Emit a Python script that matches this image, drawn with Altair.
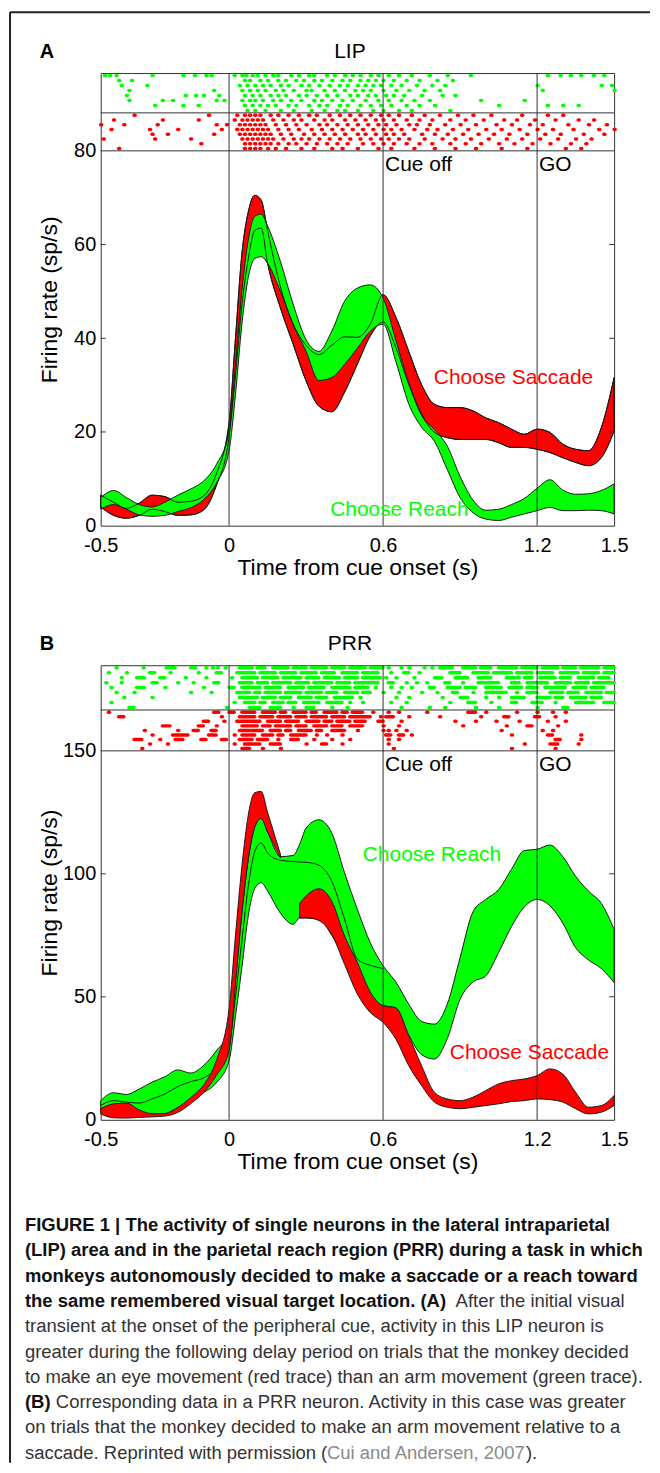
import altair as alt
import pandas as pd

RED = "#ff0000"
GREEN = "#00ff00"
EDGE = "#1a1a1a"
FONT = "Liberation Sans"

# ---------------- Panel A (LIP) ----------------
tA = [-0.5, -0.45, -0.4, -0.35, -0.3, -0.25, -0.2, -0.15, -0.1, -0.05, 0, 0.025, 0.05, 0.075, 0.1,
      0.125, 0.15, 0.2, 0.25, 0.3, 0.35, 0.4, 0.45, 0.5, 0.55, 0.6, 0.65, 0.7, 0.75, 0.8, 0.85, 0.9,
      0.95, 1.0, 1.05, 1.1, 1.15, 1.2, 1.25, 1.3, 1.35, 1.4, 1.45, 1.5]
A_green_hi = [6.0, 7.5, 6.0, 4.5, 4.0, 5.0, 6.5, 7.8, 9.5, 13.0, 20.0, 34.0, 50.0, 61.0, 66.0,
              66.5, 64.0, 56.4, 47.2, 39.7, 37.2, 41.5, 47.9, 50.7, 51.4, 48.6, 39.5, 30.5, 23.5, 20.5, 17.0, 10.5,
              5.5, 3.3, 3.5, 4.5, 5.8, 8.0, 9.8, 7.6, 6.7, 6.8, 7.5, 8.9]
A_green_lo = [3.5, 4.5, 3.5, 2.3, 2.0, 2.2, 3.0, 3.8, 5.5, 9.0, 16.0, 28.0, 43.0, 53.0, 57.0,
              57.4, 56.0, 50.0, 42.9, 37.2, 31.0, 31.6, 34.4, 37.9, 41.5, 43.0, 35.0, 26.0, 21.0, 18.0, 12.0, 6.0,
              2.8, 1.4, 1.1, 1.8, 2.5, 3.2, 3.9, 3.2, 3.2, 3.3, 3.2, 2.5]
A_red_hi = [6.5, 5.0, 3.7, 4.8, 6.5, 6.2, 5.0, 5.2, 6.3, 11.0, 22.0, 40.0, 58.0, 67.0, 70.5,
            69.5, 63.0, 51.0, 43.0, 38.5, 36.5, 38.5, 40.3, 40.2, 43.0, 49.3, 44.5, 37.2, 30.1, 25.9, 25.2, 25.2,
            24.5, 23.0, 22.0, 20.6, 19.5, 20.6, 19.9, 17.4, 16.3, 16.0, 20.9, 31.6]
A_red_lo = [4.0, 2.2, 1.6, 2.2, 3.5, 3.0, 2.2, 2.3, 3.3, 8.5, 19.0, 32.0, 47.0, 57.0, 63.0,
            63.5, 56.0, 46.5, 38.7, 30.9, 25.5, 24.3, 28.5, 34.5, 40.5, 43.5, 38.0, 30.1, 23.8, 19.9, 18.8, 18.4,
            18.4, 18.4, 17.7, 16.7, 16.7, 16.3, 15.6, 14.5, 13.5, 12.8, 14.5, 20.2]

# raster A: spike times per trial row, top row first
A_raster_green = [
    [-0.485, -0.465, -0.44, -0.30, -0.18, -0.135, -0.09, -0.07, 0.02, 0.05, 0.065, 0.09, 0.11, 0.14, 0.17,
     0.19, 0.24, 0.27, 0.31, 0.33, 0.38, 0.41, 0.45, 0.48, 0.51, 0.55, 0.58, 0.62, 0.66, 0.71, 0.78, 0.85,
     0.94, 1.24, 1.29, 1.33, 1.37, 1.42, 1.46],
    [-0.43, -0.38, 0.06, 0.08, 0.12, 0.15, 0.19, 0.22, 0.26, 0.29, 0.33, 0.36, 0.40, 0.44, 0.47, 0.51, 0.54,
     0.57, 0.6, 0.64, 0.69, 0.74, 0.81, 0.87],
    [-0.42, -0.32, 0.04, 0.07, 0.10, 0.13, 0.16, 0.2, 0.23, 0.28, 0.31, 0.35, 0.39, 0.43, 0.46, 0.5, 0.53,
     0.56, 0.59, 0.63, 0.67, 0.73, 0.79, 0.84, 1.2, 1.45, 1.49],
    [-0.39, -0.06, 0.05, 0.08, 0.11, 0.14, 0.18, 0.21, 0.25, 0.3, 0.32, 0.37, 0.41, 0.45, 0.49, 0.52, 0.55,
     0.6, 0.65, 0.7, 0.76, 0.82, 1.22, 1.5],
    [-0.4, -0.17, -0.13, -0.1, -0.04, 0.06, 0.09, 0.12, 0.16, 0.19, 0.22, 0.27, 0.3, 0.34, 0.38, 0.42, 0.47,
     0.5, 0.54, 0.57, 0.61, 0.64, 0.68, 0.75, 0.83, 0.88],
    [-0.39, -0.26, -0.22, -0.05, -0.02, 0.05, 0.08, 0.1, 0.13, 0.17, 0.2, 0.24, 0.28, 0.33, 0.36, 0.4, 0.44,
     0.48, 0.53, 0.58, 0.62, 0.67, 0.72, 0.78, 0.98, 1.15],
    [-0.29, -0.18, -0.12, 0.06, 0.09, 0.12, 0.15, 0.18, 0.23, 0.26, 0.31, 0.35, 0.38, 0.43, 0.46, 0.51, 0.55,
     0.59, 0.63, 0.69, 0.74, 0.8, 1.05, 1.24, 1.3, 1.36],
    [0.07, 0.1, 0.14, 0.2, 0.25, 0.32, 0.37, 0.42, 0.45, 0.5, 0.56, 0.6, 0.66, 0.71, 0.86],
]
A_raster_red = [
    [-0.37, -0.08, 0.03, 0.06, 0.08, 0.1, 0.12, 0.16, 0.19, 0.23, 0.27, 0.31, 0.34, 0.39, 0.43, 0.47, 0.51,
     0.55, 0.59, 0.62, 0.66, 0.71, 0.76, 0.82, 0.89, 0.95, 1.02, 1.14, 1.24, 1.3],
    [-0.45, -0.26, -0.12, 0.02, 0.05, 0.07, 0.09, 0.11, 0.13, 0.17, 0.21, 0.25, 0.28, 0.33, 0.37, 0.4, 0.45,
     0.49, 0.53, 0.57, 0.6, 0.64, 0.69, 0.74, 0.79, 0.86, 0.92, 0.99, 1.07, 1.12, 1.19, 1.27, 1.36, 1.42],
    [-0.5, -0.41, -0.28, -0.05, -0.01, 0.04, 0.06, 0.08, 0.1, 0.12, 0.14, 0.18, 0.22, 0.26, 0.3, 0.35, 0.38,
     0.42, 0.46, 0.5, 0.54, 0.58, 0.61, 0.65, 0.7, 0.73, 0.78, 0.84, 0.9, 0.96, 1.04, 1.1, 1.17, 1.22, 1.32,
     1.4, 1.47],
    [-0.46, -0.31, -0.2, -0.03, 0.03, 0.05, 0.07, 0.09, 0.11, 0.13, 0.15, 0.19, 0.23, 0.27, 0.32, 0.36, 0.4,
     0.44, 0.48, 0.52, 0.56, 0.6, 0.63, 0.67, 0.72, 0.77, 0.81, 0.87, 0.93, 1.0, 1.06, 1.13, 1.2, 1.26, 1.34,
     1.44, 1.5],
    [-0.3, -0.24, -0.06, 0.04, 0.06, 0.08, 0.1, 0.12, 0.14, 0.16, 0.2, 0.24, 0.29, 0.33, 0.37, 0.41, 0.45,
     0.5, 0.53, 0.57, 0.61, 0.64, 0.68, 0.75, 0.8, 0.85, 0.91, 0.97, 1.03, 1.09, 1.16, 1.23, 1.29, 1.38, 1.46],
    [-0.49, -0.29, -0.15, 0.05, 0.07, 0.09, 0.11, 0.13, 0.15, 0.17, 0.21, 0.25, 0.28, 0.31, 0.35, 0.39,
     0.43, 0.47, 0.51, 0.55, 0.59, 0.62, 0.66, 0.7, 0.76, 0.83, 0.88, 0.94, 1.01, 1.08, 1.14, 1.21, 1.28,
     1.35, 1.41],
    [-0.11, 0.06, 0.08, 0.1, 0.12, 0.14, 0.16, 0.19, 0.23, 0.26, 0.3, 0.34, 0.38, 0.42, 0.46, 0.52, 0.56,
     0.6, 0.64, 0.69, 0.74, 0.79, 0.86, 0.92, 0.98, 1.05, 1.11, 1.18, 1.25, 1.33, 1.39],
    [-0.43, 0.06, 0.08, 0.1, 0.12, 0.15, 0.18, 0.22, 0.28, 0.33, 0.4, 0.44, 0.5, 0.58, 0.63, 0.72, 0.8,
     0.88, 0.96, 1.06, 1.16, 1.31, 1.37],
]

# ---------------- Panel B (PRR) ----------------
tB = [-0.5, -0.45, -0.4, -0.35, -0.3, -0.25, -0.2, -0.15, -0.1, -0.05, 0, 0.025, 0.05, 0.075, 0.1,
      0.125, 0.15, 0.2, 0.25, 0.275, 0.3, 0.35, 0.4, 0.45, 0.5, 0.55, 0.6, 0.65, 0.7, 0.75, 0.8, 0.85, 0.9,
      0.95, 1.0, 1.05, 1.1, 1.15, 1.2, 1.25, 1.3, 1.35, 1.4, 1.45, 1.5]
B_green_hi = [7.8, 11.0, 10.3, 12.5, 15.3, 17.5, 20.3, 19.0, 22.0, 28.0, 36.0, 58.0, 84.0, 106.0, 119.0,
              122.5, 117.0, 107.0, 107.5, 112.0, 118.6, 122.0, 116.6, 100.4, 85.5, 72.0, 62.6, 56.0, 47.0, 40.0,
              38.9, 47.0, 66.0, 84.5, 89.6, 93.6, 101.8, 109.5, 110.0, 111.7, 107.0, 99.0, 93.0, 88.0, 77.4]
B_green_lo = [3.8, 6.2, 6.0, 3.1, 1.8, 2.5, 5.0, 8.0, 11.0, 15.0, 24.0, 42.0, 62.0, 83.0, 94.0,
              96.4, 93.0, 84.0, 79.5, 82.0, 82.0, 81.5, 75.0, 65.3, 55.8, 48.0, 46.4, 45.5, 34.5, 26.5,
              24.7, 33.0, 49.0, 56.0, 58.5, 68.0, 78.5, 86.5, 89.6, 87.0, 80.0, 70.0, 65.0, 61.5, 55.8]
B_green_mid = [5.8, 7.8, 7.2, 6.8, 8.5, 10.5, 13.5, 15.5, 17.0, 21.0, 30.0, 50.0, 73.0, 95.0, 109.0,
               112.5, 108.5, 105.5, 105.0, 104.8, 104.7, 103.5, 97.0, 81.5, 65.3, 62.8, 61.5, None, None, None,
               None, None, None, None, None, None, None, None, None, None, None, None, None, None, None]
B_red_hi = [4.5, 6.5, 6.8, 4.0, 2.5, 2.5, 5.0, 9.0, 14.0, 24.0, 45.0, 75.0, 103.0, 124.0, 133.0,
            133.5, 125.0, 108.0, None, 88.0, 91.0, 93.9, 88.9, 74.7, 63.9, 52.0, 46.4, 45.5, 34.2, 22.0,
            11.2, 8.5, 7.8, 9.2, 11.9, 14.6, 15.9, 16.6, 18.0, 20.7, 18.6, 11.2, 5.1, 5.8, 9.9]
B_red_lo = [2.4, 0.8, 0.7, 1.0, 1.2, 1.5, 3.0, 6.5, 11.0, 18.0, 28.0, 55.0, 84.0, 106.0, 119.0,
            122.5, 117.0, 106.5, None, 82.2, 82.2, 81.0, 75.4, 63.2, 51.1, 43.6, 39.6, 32.8, 22.0, 13.9,
            7.2, 5.1, 4.5, 5.1, 5.8, 6.5, 7.4, 7.8, 8.5, 8.2, 7.2, 4.5, 2.4, 3.1, 5.8]

# raster B: spikes (single times) and bursts ([start, end]) per trial row, top row first
B_raster_green = [
    [-0.44, -0.335, [-0.245, -0.21], [-0.15, -0.13], -0.09, -0.065, -0.045, -0.015, [0.04, 0.09], [0.11, 0.14],
     [0.17, 0.23], [0.25, 0.3], [0.32, 0.38], [0.4, 0.45], [0.47, 0.53], [0.55, 0.6], 0.62, 0.67, 0.7, 0.76,
     0.79, [0.82, 0.87], [0.91, 0.96], [0.98, 1.02], [1.05, 1.12], [1.14, 1.2], [1.22, 1.28], [1.3, 1.35],
     [1.37, 1.44], [1.46, 1.5]],
    [-0.47, -0.4, [-0.31, -0.29], -0.23, -0.12, [-0.05, -0.03], [0.03, 0.1], [0.12, 0.18], [0.2, 0.26],
     [0.28, 0.34], [0.36, 0.41], [0.44, 0.5], [0.52, 0.58], 0.63, [0.68, 0.7], 0.74, [0.86, 0.9], [0.95, 1.01],
     [1.03, 1.1], [1.12, 1.18], [1.2, 1.26], [1.29, 1.36], [1.38, 1.44], [1.46, 1.5]],
    [-0.42, [-0.36, -0.33], [-0.27, -0.25], -0.17, -0.09, 0.01, [0.05, 0.11], [0.13, 0.19], [0.21, 0.28],
     [0.3, 0.35], [0.37, 0.43], [0.45, 0.5], [0.52, 0.59], 0.61, 0.65, 0.72, [0.8, 0.83], [0.88, 0.93],
     [0.97, 1.02], [1.08, 1.13], [1.15, 1.18], [1.21, 1.27], [1.29, 1.33], [1.36, 1.42], [1.44, 1.48]],
    [-0.48, -0.42, [-0.3, -0.28], -0.2, -0.14, [-0.06, -0.04], [0.04, 0.09], [0.11, 0.15], [0.17, 0.24],
     [0.26, 0.31], [0.33, 0.4], [0.42, 0.47], [0.49, 0.58], [0.62, 0.64], 0.69, 0.73, 0.77, [0.84, 0.86], 0.91,
     [0.97, 1.05], [1.1, 1.13], [1.16, 1.24], [1.27, 1.33], [1.35, 1.4], [1.42, 1.5]],
    [-0.46, [-0.36, -0.33], -0.25, -0.1, [0.0, 0.02], [0.05, 0.12], [0.14, 0.2], [0.23, 0.29], [0.31, 0.37],
     [0.4, 0.47], [0.49, 0.54], 0.57, 0.63, 0.67, 0.71, [0.78, 0.8], [0.85, 0.9], [0.92, 0.96], [1.0, 1.06],
     [1.09, 1.14], [1.16, 1.2], [1.23, 1.31], [1.34, 1.39], [1.41, 1.46]],
    [-0.44, -0.37, -0.15, -0.07, [0.03, 0.08], [0.1, 0.12], [0.14, 0.2], [0.22, 0.28], [0.3, 0.36],
     [0.38, 0.42], [0.45, 0.5], [0.52, 0.55], 0.6, 0.66, 0.75, 0.81, [0.87, 0.89], 0.95, [1.0, 1.08], 1.12,
     [1.16, 1.2], [1.25, 1.3], [1.32, 1.36], [1.39, 1.45], [1.47, 1.5]],
    [-0.41, -0.3, [0.04, 0.11], [0.13, 0.18], [0.2, 0.24], [0.27, 0.32], [0.34, 0.38], [0.41, 0.48], 0.51,
     0.65, 0.7, 0.83, [0.9, 0.93], 1.0, 1.05, [1.1, 1.15], [1.2, 1.25], [1.27, 1.3], [1.33, 1.39], [1.41, 1.45]],
    [-0.46, 0.02, [0.06, 0.1], [0.12, 0.14], [0.17, 0.21], [0.23, 0.26], [0.29, 0.35], [0.38, 0.44], 0.47,
     0.52, 0.63, 0.69, 0.86, [0.93, 0.96], 1.02, [1.1, 1.12], [1.18, 1.22], 1.27, [1.35, 1.42], [1.46, 1.5]],
    [[-0.39, -0.37], -0.01, [0.08, 0.12], [0.16, 0.2], 0.25, [0.3, 0.33], 0.4, 0.46, 0.67, 0.78, 0.84, 0.96,
     1.05, 1.2, [1.3, 1.32]],
]
B_raster_red = [
    [-0.47, [-0.06, -0.04], [0.0, 0.02], [0.05, 0.1], [0.13, 0.18], [0.2, 0.22], [0.25, 0.3], [0.32, 0.34],
     [0.37, 0.42], [0.44, 0.46], [0.48, 0.52], 0.56, 0.62, 0.66, 0.77, [0.93, 0.96], 1.0, 1.12, 1.2, 1.26, 1.31],
    [[-0.43, -0.41], -0.03, [0.04, 0.1], [0.12, 0.17], [0.19, 0.24], [0.26, 0.3], [0.32, 0.38], [0.4, 0.45],
     [0.47, 0.55], 0.59, [0.61, 0.64], 0.7, 0.82, 0.98, [1.07, 1.09], [1.19, 1.21], 1.27],
    [[-0.1, -0.08], -0.02, [0.03, 0.12], [0.15, 0.2], [0.22, 0.27], [0.3, 0.35], [0.37, 0.4], [0.42, 0.47],
     [0.49, 0.53], [0.58, 0.6], 0.67, 0.88, 0.96, 1.04, 1.13, 1.24, 1.31],
    [[-0.26, -0.23], [-0.12, -0.1], -0.05, [0.05, 0.11], [0.13, 0.16], [0.18, 0.24], [0.26, 0.3], [0.33, 0.38],
     [0.4, 0.44], [0.47, 0.52], 0.6, 0.66, 0.91, 1.08, [1.16, 1.18], 1.28],
    [-0.33, -0.2, [-0.14, -0.12], [-0.07, -0.05], [0.04, 0.13], [0.16, 0.2], [0.22, 0.24], [0.27, 0.32],
     [0.34, 0.36], [0.4, 0.45], 0.5, 0.6, 0.62, 0.65, 0.69, 1.06, 1.22, 1.26],
    [-0.3, [-0.22, -0.16], [-0.08, -0.05], 0.02, [0.05, 0.1], [0.13, 0.17], [0.19, 0.21], [0.24, 0.3], 0.34,
     0.38, 0.44, [0.61, 0.63], [0.66, 0.68], 0.71, 1.1, [1.24, 1.26], 1.37],
    [[-0.37, -0.34], -0.27, [-0.21, -0.18], [-0.11, -0.09], [-0.03, -0.01], [0.04, 0.09], [0.11, 0.15], 0.19,
     [0.24, 0.27], 0.33, 0.4, 0.47, 0.62, 0.66, [1.27, 1.29], 1.37],
    [-0.31, -0.24, 0.02, [0.06, 0.12], [0.16, 0.2], 0.3, [0.36, 0.38], 0.44, 0.62, 1.15, [1.25, 1.28], 1.36],
    [-0.34, [0.05, 0.08], 0.13, 0.2, 0.64, 1.1, 1.27],
]

# ---------------- annotation text / ticks ----------------
x_ticks = [-0.5, 0, 0.6, 1.2, 1.5]
event_times = [0, 0.6, 1.2]
A_yticks = [0, 20, 40, 60, 80]
B_yticks = [0, 50, 100, 150]
A_limits = [0, 96.6]
B_limits = [0, 184.8]
A_raster_split = [88.1, 80]
B_raster_split = [166.6, 150]

BOLD_C = "#111111"
REG_C = "#333333"
REF_C = "#8a8a8a"
caption_lines = [
    [("FIGURE 1 | The activity of single neurons in the lateral intraparietal", "bold", BOLD_C, 0)],
    [("(LIP) area and in the parietal reach region (PRR) during a task in which", "bold", BOLD_C, 0)],
    [("monkeys autonomously decided to make a saccade or a reach toward", "bold", BOLD_C, 0)],
    [("the same remembered visual target location. (A)", "bold", BOLD_C, 0),
     ("After the initial visual", "normal", REG_C, 432)],
    [("transient at the onset of the peripheral cue, activity in this LIP neuron is", "normal", REG_C, 0)],
    [("greater during the following delay period on trials that the monkey decided", "normal", REG_C, 0)],
    [("to make an eye movement (red trace) than an arm movement (green trace).", "normal", REG_C, 0)],
    [("(B)", "bold", BOLD_C, 0),
     ("Corresponding data in a PRR neuron. Activity in this case was greater", "normal", REG_C, 31)],
    [("on trials that the monkey decided to make an arm movement relative to a", "normal", REG_C, 0)],
    [("saccade. Reprinted with permission (", "normal", REG_C, 0),
     ("Cui and Andersen, 2007", "normal", REF_C, 303),
     (").", "normal", REG_C, 502.5)],
]

W = 515
HA = 454
HB = 456
xs = alt.Scale(domain=[-0.5, 1.5], nice=False, zero=False)


def x_axis():
    return alt.Axis(values=x_ticks,
                    labelExpr="datum.value == 0 ? '0' : replace(datum.label, '\u2212', '-')",
                    grid=False, domain=False, ticks=False, labelFontSize=20, labelColor="black",
                    labelPadding=10, title="Time from cue onset (s)", titleFontSize=23, titleFontWeight="normal",
                    titleColor="black", titlePadding=1, labelFlush=False)


def y_axis(vals):
    return alt.Axis(values=vals, grid=False, domain=False, ticks=False, labelFontSize=20,
                    labelColor="black", labelPadding=5, title="Firing rate (sp/s)", titleFontSize=23,
                    titleFontWeight="normal", titleColor="black", titleX=-51, titleBaseline="middle",
                    titleAngle=-90)


def band_df(t, lo, hi):
    rows, seg = [], 0
    for ti, l, h in zip(t, lo, hi):
        if l is None or h is None:
            seg += 1
            continue
        rows.append({"t": ti, "lo": l, "hi": h, "seg": seg})
    return pd.DataFrame(rows)


def line_df(t, v):
    return pd.DataFrame([{"t": a, "v": b} for a, b in zip(t, v) if b is not None])


def dots_df(rows, top, bottom):
    step = (top - bottom) / len(rows)
    out = []
    for j, row in enumerate(rows):
        v = top - (j + 0.5) * step
        for s in row:
            if isinstance(s, list):
                a, b = s
            else:
                a, b = s, s + 0.004
            out.append({"t": a, "t2": b, "v": v})
    return pd.DataFrame(out)


def panel(label, area, H, limits, yticks, split, bands, raster_g, raster_r, texts, extra):
    ys = alt.Scale(domain=limits, nice=False, zero=False)
    X = lambda f="t": alt.X(f"{f}:Q", scale=xs, axis=x_axis())
    Y = lambda f="v": alt.Y(f"{f}:Q", scale=ys, axis=y_axis(yticks))
    layers = []
    for df, fill, fop in bands:
        if "lo" in df.columns:
            layers.append(alt.Chart(df).mark_area(fill=fill, fillOpacity=fop, stroke=EDGE, strokeWidth=1,
                                                  interpolate="monotone")
                          .encode(x=X(), y=Y("lo"), y2="hi:Q", detail="seg:N"))
        else:
            layers.append(alt.Chart(df).mark_line(color=EDGE, strokeWidth=1, interpolate="monotone")
                          .encode(x=X(), y=Y()))
    top = limits[1]
    for rows, col, t0, b0 in [(raster_g, GREEN, top, split[0]), (raster_r, RED, split[0], split[1])]:
        d = dots_df(rows, t0, b0)
        layers.append(alt.Chart(d).mark_rule(color=col, strokeWidth=3.5, strokeCap="round")
                      .encode(x=X(), x2="t2:Q", y=Y()))
    hl = pd.DataFrame({"v": split})
    layers.append(alt.Chart(hl).mark_rule(color="#333333", strokeWidth=1).encode(y=Y()))
    vl = pd.DataFrame({"t": event_times})
    layers.append(alt.Chart(vl).mark_rule(color="#333333", strokeWidth=1).encode(x=X()))
    tk = pd.DataFrame({"v": [v for v in yticks if 0 < v < split[1]]})
    layers.append(alt.Chart(tk).mark_rule(color="#333333").encode(y=Y(), x=alt.value(0), x2=alt.value(5)))
    layers.append(alt.Chart(tk).mark_rule(color="#333333").encode(y=Y(), x=alt.value(W - 5), x2=alt.value(W)))
    for txt, t, v, col in texts:
        d = pd.DataFrame({"t": [t], "v": [v]})
        layers.append(alt.Chart(d).mark_text(text=txt, color=col, fontSize=21, align="left", baseline="middle",
                                             dx=2).encode(x=X(), y=Y()))
    one = pd.DataFrame({"k": [0]})
    layers.append(alt.Chart(one).mark_text(text=label, fontSize=20, fontWeight="bold", color="black",
                                           baseline="middle", align="center")
                  .encode(x=alt.value(-54), y=alt.value(-21)))
    layers.append(alt.Chart(one).mark_text(text=area, fontSize=21, color="black", baseline="middle",
                                           align="center")
                  .encode(x=alt.value(250), y=alt.value(-21)))
    layers += extra
    return alt.layer(*layers).properties(width=W, height=H)


one = pd.DataFrame({"k": [0]})
frame = [
    alt.Chart(one).mark_rule(color="#222222", strokeWidth=2)
    .encode(x=alt.value(-91), y=alt.value(-61), y2=alt.value(1394)),
    alt.Chart(one).mark_rule(color="#222222", strokeWidth=2)
    .encode(x=alt.value(-91), x2=alt.value(551), y=alt.value(-61)),
]

caption = []
for i, segs in enumerate(caption_lines):
    yy = 561.7 + i * 25.37
    for txt, wt, col, dx in segs:
        caption.append(alt.Chart(one).mark_text(text=txt, font=FONT, fontSize=18.5, fontWeight=wt, color=col,
                                                align="left", baseline="middle")
                       .encode(x=alt.value(-76 + dx), y=alt.value(yy)))

bandsA = [
    (band_df(tA, A_red_lo, A_red_hi), RED, 1),
    (band_df(tA, A_green_lo, A_green_hi), GREEN, 1),
    (band_df(tA, A_red_lo, A_red_hi), RED, 0),
]
bandsB = [
    (band_df(tB, B_green_lo, B_green_hi), GREEN, 1),
    (line_df(tB, B_green_mid), None, 1),
    (band_df(tB, B_red_lo, B_red_hi), RED, 1),
]
textsA = [("Cue off", 0.6, 77, "black"), ("GO", 1.2, 77, "black"),
          ("Choose Saccade", 0.79, 31.5, RED), ("Choose Reach", 0.386, 3.3, GREEN)]
textsB = [("Cue off", 0.6, 144.3, "black"), ("GO", 1.2, 144.3, "black"),
          ("Choose Reach", 0.513, 107.8, GREEN), ("Choose Saccade", 0.852, 27.2, RED)]

pA = panel("A", "LIP", HA, A_limits, A_yticks, A_raster_split, bandsA, A_raster_green, A_raster_red, textsA, frame)
pB = panel("B", "PRR", HB, B_limits, B_yticks, B_raster_split, bandsB, B_raster_green, B_raster_red, textsB,
           caption)

chart = alt.vconcat(pA, pB, spacing=140, bounds="flush").properties(padding=0).configure(
    font=FONT).configure_view(stroke="#333333", strokeWidth=1)

chart.save("out.html", embed_options={"renderer": "svg", "actions": False})
